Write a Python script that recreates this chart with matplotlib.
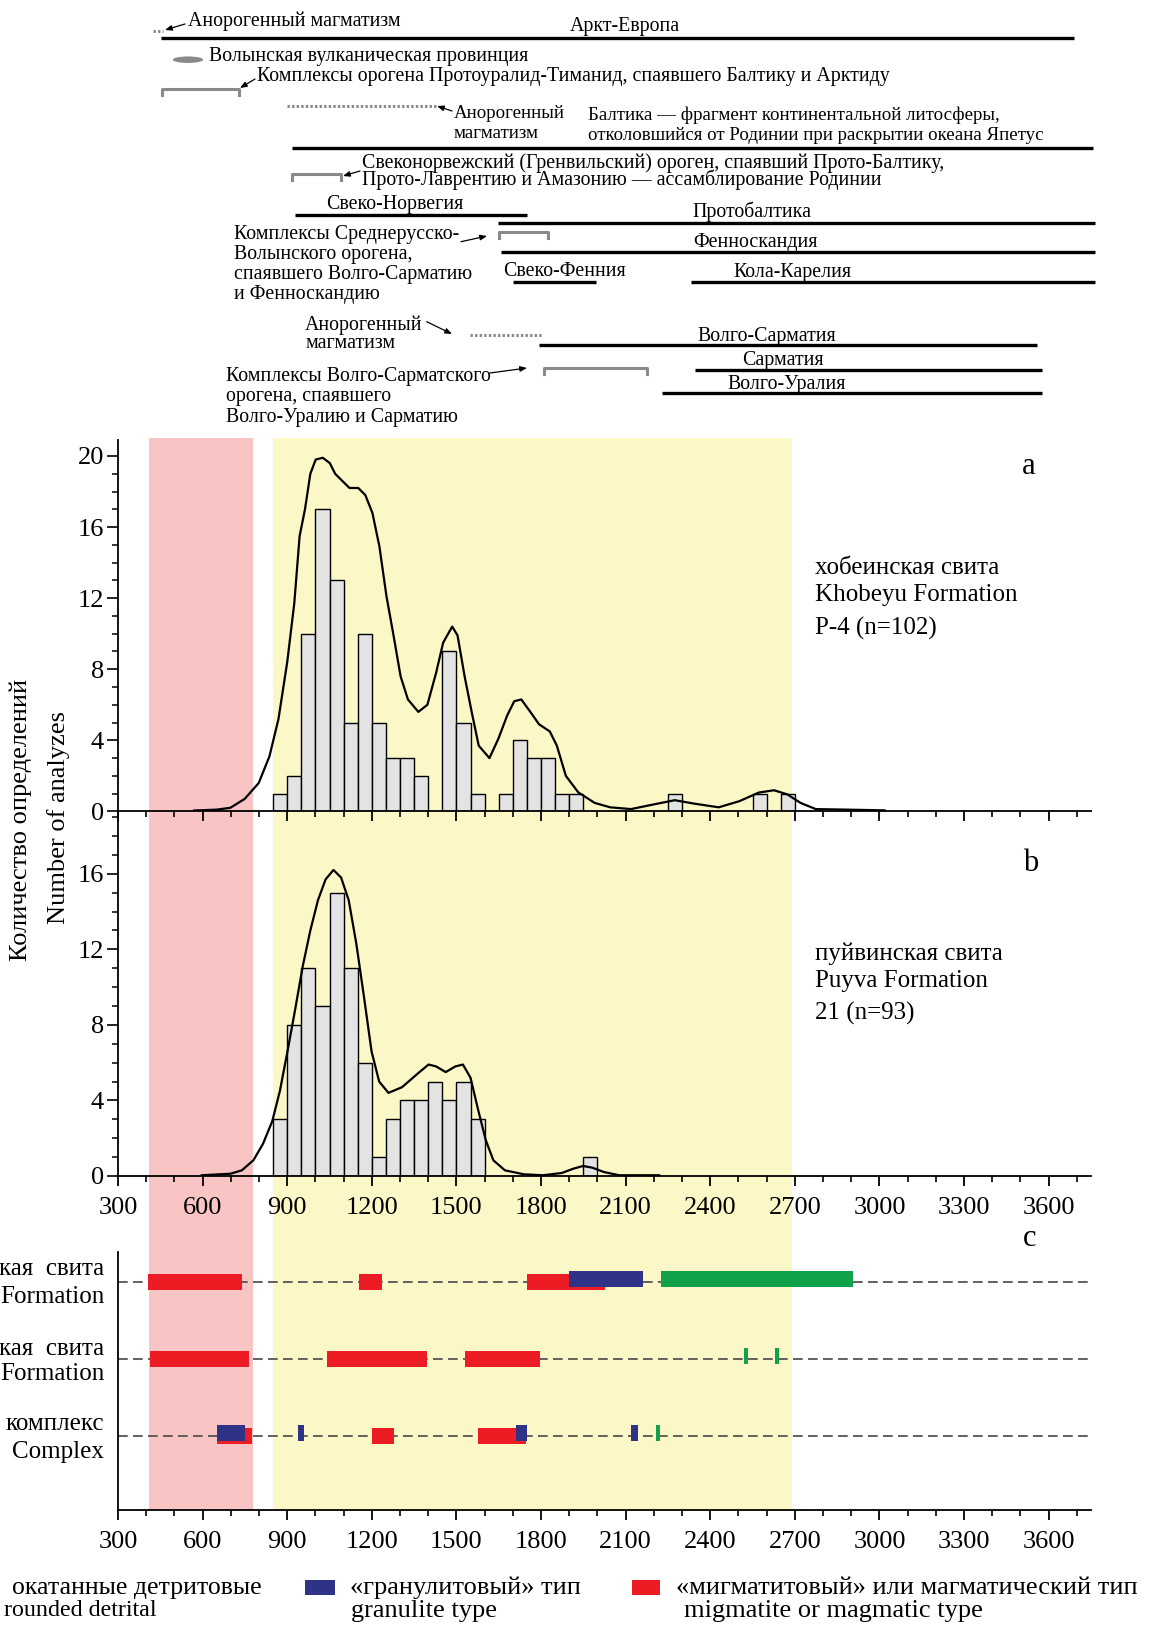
import matplotlib
matplotlib.use('Agg')
import matplotlib.pyplot as plt
from matplotlib.patches import Ellipse, Rectangle, FancyArrowPatch
from matplotlib.ticker import MultipleLocator, FixedLocator

plt.rcParams['font.family'] = ['Liberation Serif', 'DejaVu Serif']
plt.rcParams['lines.scale_dashes'] = False
plt.rcParams['axes.linewidth'] = 1.3

# ---------------- data ----------------
XLIM = (300, 3750)
major_ages = list(range(300, 3601, 300))
minor_ages = list(range(300, 3701, 100))

pink_band = (410, 778)
yellow_band = (848, 2690)

# panel a : Khobeyu Formation, P-4 (n=102)
bins_a = [850, 900, 950, 1000, 1050, 1100, 1150, 1200, 1250, 1300, 1350, 1450, 1500,
          1550, 1650, 1700, 1750, 1800, 1850, 1900, 2250, 2550, 2650]
counts_a = [1, 2, 10, 17, 13, 5, 10, 5, 3, 3, 2, 9, 5, 1, 1, 4, 3, 3, 1, 1, 1, 1, 1]
kde_a_age = [570, 650, 698, 749, 799, 837, 869, 900, 925, 944, 963, 982, 1001, 1026, 1051,
             1070, 1095, 1121, 1152, 1177, 1202, 1227, 1252, 1277, 1302, 1328, 1365, 1397,
             1428, 1453, 1485, 1504, 1529, 1554, 1579, 1617, 1649, 1680, 1705, 1730, 1762,
             1793, 1831, 1856, 1888, 1932, 1990, 2045, 2119, 2180, 2274, 2342, 2430, 2504,
             2572, 2626, 2673, 2720, 2774, 2882, 3018]
kde_a_val = [0.05, 0.1, 0.2, 0.7, 1.6, 3.1, 5.2, 8.4, 11.7, 15.5, 17.0, 19.0, 19.8, 19.9, 19.6,
             19.0, 18.6, 18.2, 18.2, 17.8, 16.8, 14.9, 12.1, 9.9, 7.6, 6.3, 5.6, 6.0,
             7.8, 9.5, 10.4, 9.9, 7.6, 5.6, 3.7, 3.0, 4.1, 5.4, 6.2, 6.3, 5.6,
             4.9, 4.5, 3.7, 2.0, 1.07, 0.48, 0.23, 0.13, 0.33, 0.63, 0.44, 0.23, 0.58,
             1.06, 1.19, 0.96, 0.48, 0.13, 0.1, 0.06]

# panel b : Puyva Formation, 21 (n=93)
bins_b = [850, 900, 950, 1000, 1050, 1100, 1150, 1200, 1250, 1300, 1350, 1400, 1450,
          1500, 1550, 1950]
counts_b = [3, 8, 11, 9, 15, 11, 6, 1, 3, 4, 4, 5, 4, 5, 3, 1]
kde_b_age = [597, 699, 739, 780, 814, 847, 874, 901, 928, 955, 982, 1009, 1036, 1064, 1091,
             1118, 1145, 1172, 1199, 1226, 1259, 1307, 1361, 1401, 1428, 1462, 1496, 1523,
             1550, 1577, 1604, 1631, 1672, 1739, 1807, 1874, 1915, 1949, 1982, 2023, 2077, 2219]
kde_b_val = [0.04, 0.12, 0.3, 0.83, 1.7, 2.9, 4.5, 6.6, 8.8, 11.1, 13.0, 14.6, 15.7, 16.2, 15.8,
             14.6, 12.3, 9.5, 6.6, 5.0, 4.4, 4.7, 5.4, 5.9, 5.8, 5.5, 5.8, 5.9,
             5.2, 3.5, 1.9, 0.83, 0.3, 0.09, 0.04, 0.16, 0.39, 0.53, 0.44, 0.21, 0.04, 0.04]

# panel c : rows 3 = Khobeyu, 2 = Puyva, 1 = complex
magm_row = [3, 3, 3, 2, 2, 2, 1, 1, 1]
magm_start = [405, 1155, 1750, 415, 1040, 1530, 650, 1200, 1575]
magm_end = [740, 1235, 2025, 765, 1395, 1795, 775, 1280, 1748]
gran_row = [3, 1, 1, 1, 1]
gran_start = [1900, 650, 940, 1710, 2120]
gran_end = [2160, 752, 960, 1750, 2145]
detr_row = [3, 2, 2, 1]
detr_start = [2225, 2519, 2630, 2207]
detr_end = [2905, 2533, 2644, 2222]
row_labels_ru = ['кая  свита', 'кая  свита', 'комплекс']
row_labels_en = ['Formation', 'Formation', 'Complex']

# top scheme: terranes (black), anorogenic magmatism (dotted), orogen complexes (brackets)
terr_start = [452, 917, 926, 1649, 1658, 1699, 2330, 1791, 2345, 2228]
terr_end = [3690, 3756, 1750, 3765, 3765, 1994, 3765, 3557, 3576, 3576]
terr_row = [37.7, 147.7, 215, 223.3, 252.3, 281.7, 281.7, 345, 370, 393.3]
anor_start = [424, 899, 1547]
anor_end = [460, 1436, 1807]
anor_row = [30.7, 106, 335]
orog_start = [455, 917, 1652, 1810]
orog_end = [728, 1090, 1823, 2174]
orog_row = [89.3, 174.3, 232.3, 368.3]
volyn_span = (494, 602)
volyn_row = 59.7

# ---------------- figure ----------------
W, H = 1175, 1625
fig = plt.figure(figsize=(W / 100, H / 100), dpi=100)
AX_L, AX_R = 118, 1091


def box(x0, y0, x1, y1):
    return [x0 / W, 1 - y1 / H, (x1 - x0) / W, (y1 - y0) / H]


def P(x, y):
    return (x / W, 1 - y / H)


def ftext(x, y, s, size=18, ha='left', va='center', **kw):
    fig.text(x / W, 1 - y / H, s, fontsize=size, ha=ha, va=va, **kw)


GRAY = '#8a8a8a'
TXT = 18
TICK = 19

# background bands
bg = fig.add_axes(box(AX_L, 438, AX_R, 1510), zorder=0)
bg.set_xlim(XLIM)
bg.set_ylim(0, 1)
bg.axis('off')
bg.axvspan(*pink_band, color='#f8c4c4', lw=0)
bg.axvspan(*yellow_band, color='#fbf7c6', lw=0)


def style_x(ax, labels):
    ax.set_xlim(XLIM)
    ax.xaxis.set_major_locator(FixedLocator(major_ages))
    ax.xaxis.set_minor_locator(FixedLocator(minor_ages))
    ax.tick_params(axis='x', which='major', direction='out', length=7, width=1.3,
                   labelsize=TICK, pad=8, labelbottom=labels)
    ax.tick_params(axis='x', which='minor', direction='out', length=4, width=1.2)
    for s in ['top', 'right']:
        ax.spines[s].set_visible(False)
    ax.set_facecolor('none')


def style_y(ax):
    ax.yaxis.set_major_locator(MultipleLocator(4))
    ax.yaxis.set_minor_locator(MultipleLocator(1))
    ax.tick_params(axis='y', which='major', direction='out', length=8, width=1.2,
                   labelsize=TICK, pad=2)
    ax.tick_params(axis='y', which='minor', direction='out', length=4.5, width=1.1)


# panel a
axa = fig.add_axes(box(AX_L, 440, AX_R, 811.4), zorder=2)
style_x(axa, False)
style_y(axa)
axa.set_ylim(0, 20.9)
axa.bar(bins_a, counts_a, width=50, align='edge', color='#e3e3e3', edgecolor='black',
        linewidth=1.0, zorder=2)
axa.plot(kde_a_age, kde_a_val, color='black', lw=1.6, zorder=3,
         solid_joinstyle='round')

# panel b
axb = fig.add_axes(box(AX_L, 811.4, AX_R, 1176), zorder=1)
style_x(axb, True)
style_y(axb)
axb.set_ylim(0, 19.3)
axb.bar(bins_b, counts_b, width=50, align='edge', color='#e3e3e3', edgecolor='black',
        linewidth=1.0, zorder=2)
axb.plot(kde_b_age, kde_b_val, color='black', lw=1.6, zorder=3,
         solid_joinstyle='round')

# panel c
axc = fig.add_axes(box(AX_L, 1252, AX_R, 1510), zorder=1)
style_x(axc, True)
axc.set_ylim(0.04, 3.39)
axc.set_yticks([])
axc.hlines([3, 2, 1], 300, 3742, colors='#555555', lw=1.3, linestyles=[(0, (7, 3.8))],
           zorder=1)
BH = 0.21
axc.barh(magm_row, [e - s for s, e in zip(magm_start, magm_end)], left=magm_start,
         height=BH, color='#ed1c24', lw=0, zorder=2)
axc.barh([r + 0.04 for r in gran_row], [e - s for s, e in zip(gran_start, gran_end)],
         left=gran_start, height=BH, color='#2e3387', lw=0, zorder=3)
axc.barh([r + 0.04 for r in detr_row], [e - s for s, e in zip(detr_start, detr_end)],
         left=detr_start, height=BH, color='#12a14b', lw=0, zorder=3)

# top scheme
top = fig.add_axes(box(AX_L, 0, AX_R, 438), zorder=1)
top.set_xlim(XLIM)
top.set_ylim(438, 0)
top.axis('off')
for s, e, r in zip(terr_start, terr_end, terr_row):
    top.plot([s, e], [r, r], color='black', lw=2.4, solid_capstyle='butt', clip_on=False)
for s, e, r in zip(anor_start, anor_end, anor_row):
    top.plot([s, e], [r, r], color=GRAY, lw=2.2, ls=(0, (1.7, 1.6)), clip_on=False)
for s, e, r in zip(orog_start, orog_end, orog_row):
    top.plot([s, s, e, e], [r + 6, r, r, r + 6], color=GRAY, lw=2.2, clip_on=False)
top.add_patch(Ellipse(((volyn_span[0] + volyn_span[1]) / 2, volyn_row),
                      volyn_span[1] - volyn_span[0], 6.5, color=GRAY, lw=0))

S = 14.3
S2 = 13.6
D = 2
ftext(188, 19 + D, 'Анорогенный магматизм', S)
ftext(625, 25 + D, 'Аркт-Европа', S, ha='center')
ftext(209, 55 + D, 'Волынская вулканическая провинция', S)
ftext(257, 74 + D, 'Комплексы орогена Протоуралид-Тиманид, спаявшего Балтику и Арктиду', S)
ftext(454, 114, 'Анорогенный', S2)
ftext(454, 134, 'магматизм', S2)
ftext(588, 115, 'Балтика — фрагмент континентальной литосферы,', S2)
ftext(588, 135, 'отколовшийся от Родинии при раскрытии океана Япетус', S2)
ftext(362, 161 + D, 'Свеконорвежский (Гренвильский) ороген, спаявший Прото-Балтику,', S)
ftext(362, 178 + D, 'Прото-Лаврентию и Амазонию — ассамблирование Родинии', S)
ftext(395, 202 + D, 'Свеко-Норвегия', S, ha='center')
ftext(752, 210 + D, 'Протобалтика', S, ha='center')
ftext(234, 232 + D, 'Комплексы Среднерусско-', S)
ftext(234, 252 + D, 'Волынского орогена,', S)
ftext(234, 272 + D, 'спаявшего Волго-Сарматию', S)
ftext(234, 292 + D, 'и Фенноскандию', S)
ftext(755, 240 + D, 'Фенноскандия', S, ha='center')
ftext(565, 269 + D, 'Свеко-Фенния', S, ha='center')
ftext(792, 270 + D, 'Кола-Карелия', S, ha='center')
ftext(305, 323 + D, 'Анорогенный', S)
ftext(305, 342 + D, 'магматизм', S)
ftext(767, 334 + D, 'Волго-Сарматия', S, ha='center')
ftext(226, 374 + D, 'Комплексы Волго-Сарматского', S)
ftext(226, 395 + D, 'орогена, спаявшего', S)
ftext(226, 415 + D, 'Волго-Уралию и Сарматию', S)
ftext(783, 359 + D, 'Сарматия', S, ha='center')
ftext(787, 382 + D, 'Волго-Уралия', S, ha='center')

arrows = [((185, 24), (165, 30)), ((255, 79), (240, 88)), ((452, 111), (437, 106)),
          ((360, 171), (343, 176)), ((461, 241.7), (487, 236)), ((426.7, 321.7), (452, 334)),
          ((490, 373), (527, 368))]
for t, h in arrows:
    fig.add_artist(FancyArrowPatch(
        P(*t), P(*h), transform=fig.transFigure,
        arrowstyle='-|>,head_length=4,head_width=1.6', mutation_scale=1,
        lw=0.9, color='black', shrinkA=0, shrinkB=0))

# panel texts
ftext(1029, 467, 'a', 22, ha='center')
ftext(1031, 863, 'b', 22, ha='center')
ftext(1030, 1238, 'c', 22, ha='center')
ftext(815, 568, 'хобеинская свита', TXT)
ftext(815, 595, 'Khobeyu Formation', TXT)
ftext(815, 628, 'P-4 (n=102)', TXT)
ftext(815, 954, 'пуйвинская свита', TXT)
ftext(815, 981, 'Puyva Formation', TXT)
ftext(815, 1013, '21 (n=93)', TXT)

ftext(21, 820, 'Количество определений', 19, ha='center', rotation=90)
ftext(59, 817, 'Number of analyzes', 19, ha='center', rotation=90)

label_y = [(1269, 1297), (1349, 1374), (1424, 1452)]
for (y1, y2), ru, en in zip(label_y, row_labels_ru, row_labels_en):
    ftext(104, y1, ru, TXT, ha='right')
    ftext(104, y2, en, TXT, ha='right')

# legend
fig.add_artist(Rectangle(P(305, 1595), 30 / W, 15 / H, transform=fig.transFigure,
                         color='#2e3387', lw=0))
fig.add_artist(Rectangle(P(632, 1595), 28 / W, 15 / H, transform=fig.transFigure,
                         color='#ed1c24', lw=0))
ftext(262, 1588, 'окатанные детритовые', 18.5, ha='right')
ftext(157, 1611, 'rounded detrital', 17.3, ha='right')
ftext(350, 1588, '«гранулитовый» тип', 19)
ftext(351, 1611, 'granulite type', 19)
ftext(676, 1588, '«мигматитовый» или магматический тип', 19)
ftext(684, 1611, 'migmatite or magmatic type', 19)

fig.savefig('out.png', dpi=100)
